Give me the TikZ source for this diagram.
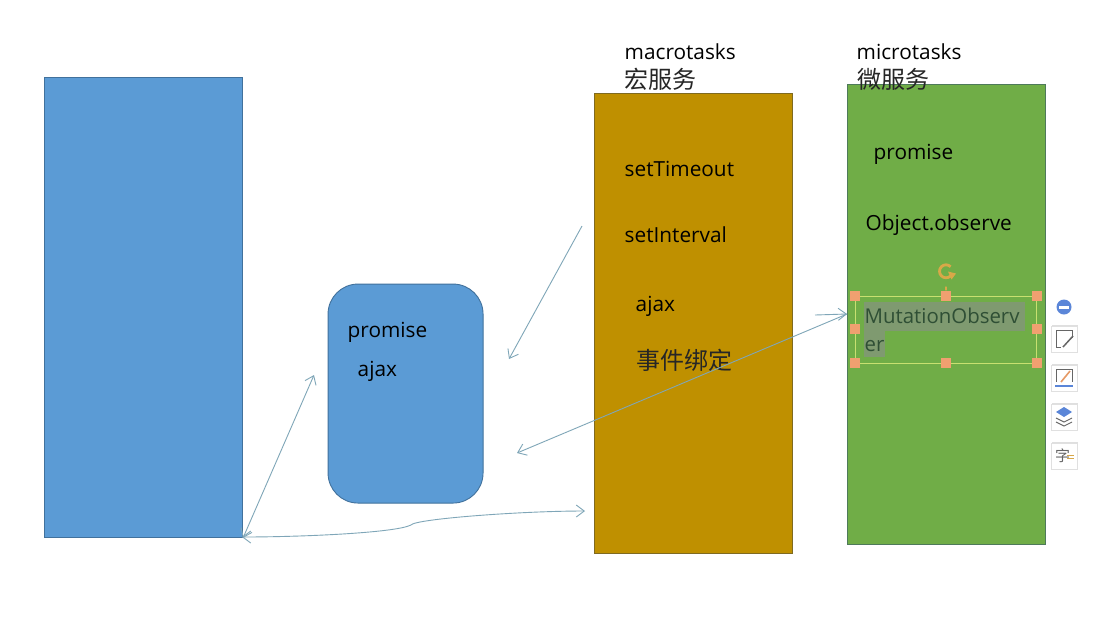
\documentclass[tikz,border=0pt]{standalone}
\usepackage{fontspec}
\setmainfont{Open Sans}
\newfontfamily\cjk{Noto Sans CJK SC}
\usetikzlibrary{arrows.meta,calc,shadows}
\definecolor{bluefill}{HTML}{5B9BD5}
\definecolor{blueline}{HTML}{41719C}
\definecolor{goldfill}{HTML}{BF9000}
\definecolor{goldline}{HTML}{7F6A20}
\definecolor{greenfill}{HTML}{70AD47}
\definecolor{greenline}{HTML}{4E7A5A}
\definecolor{arrowc}{HTML}{7FA6B8}
\definecolor{handle}{HTML}{F0A070}
\definecolor{selbox}{HTML}{C8E070}
\definecolor{hilite}{HTML}{7F9A70}
\definecolor{seltext}{HTML}{2F4F35}
\definecolor{rothandle}{HTML}{D8A848}
\definecolor{toolblue}{HTML}{5B86D8}
\tikzset{
  x=1pt,y=-1pt,
  panel/.style={draw=#1,line width=0.9pt,inner sep=0pt,anchor=north west},
  lbl/.style={inner sep=0pt,anchor=base west,font=\fontsize{20.8}{24}\selectfont,text=black},
  sellbl/.style={inner sep=0pt,anchor=base west,font=\fontsize{20.4}{24}\selectfont,text=seltext},
  cjklbl/.style={inner sep=0pt,anchor=base west,font=\fontsize{24}{26}\selectfont\cjk,text=black!85},
  conn/.style={draw=arrowc,line width=0.9pt,-{Straight Barb[length=8pt,width=12pt,line width=0.9pt]}},
  conn2/.style={draw=arrowc,line width=0.9pt,{Straight Barb[length=8pt,width=12pt,line width=0.9pt]}-{Straight Barb[length=8pt,width=12pt,line width=0.9pt]}},
  hnd/.style={fill=handle,inner sep=0pt,minimum size=10pt,draw=none},
  toolbtn/.style={draw=black!12,fill=white,line width=0.8pt,minimum size=26pt,inner sep=0pt,drop shadow={shadow xshift=1pt,shadow yshift=1.5pt,opacity=0.25}},
}
\begin{document}
\begin{tikzpicture}
\useasboundingbox (0,0) rectangle (1099,622);
\fill[white] (0,0) rectangle (1099,622);
% panels
\node[panel=blueline,fill=bluefill,minimum width=198pt,minimum height=460pt] (left) at (43.8,77.2) {};
\node[panel=blueline,fill=bluefill,rounded corners=30pt,minimum width=155pt,minimum height=219pt] (mid) at (327.6,283.6) {};
\node[panel=goldline,fill=goldfill,minimum width=198pt,minimum height=460pt] (macro) at (594.2,93.2) {};
\node[panel=greenline,fill=greenfill,minimum width=198pt,minimum height=460pt] (micro) at (847,84.2) {};
% titles
\node[lbl] (t1) at (624.5,59) {macrotasks};
\node[cjklbl] (t2) at (624,88) {宏服务};
\node[lbl] (t3) at (856.5,59) {microtasks};
\node[cjklbl] (t4) at (857,88) {微服务};
% middle labels
\node[lbl] (m1) at (347.5,337) {promise};
\node[lbl] (m2) at (357.5,376) {ajax};
% macro labels
\node[lbl] (a1) at (624.5,176) {setTimeout};
\node[lbl] (a2) at (624.5,242) {setInterval};
\node[lbl] (a3) at (635.5,311) {ajax};
\node[cjklbl] (a4) at (636,369) {事件绑定};
% micro labels
\node[lbl] (b1) at (873.5,159) {promise};
\node[lbl] (b2) at (865.5,230) {Object.observe};
% selected text
\fill[hilite] (864,302) rectangle (1025,331);
\fill[hilite] (864,331) rectangle (885,357);
\node[sellbl] (b3) at (864.5,323) {MutationObserv};
\node[sellbl] (b4) at (864.5,351) {er};
% selection box
\node[draw=selbox,line width=0.8pt,minimum width=181pt,minimum height=67pt,inner sep=0pt,anchor=north west] (sel) at (855,295.5) {};
\foreach \a/\n in {north west/h1,north/h2,north east/h3,west/h4,east/h5,south west/h6,south/h7,south east/h8}
  \node[hnd] (\n) at (sel.\a) {};
% rotate handle
\coordinate (rotc) at (946,280.5);
\draw[draw=rothandle,line width=2.8pt] ($(rotc)+(4.6,-4.6)$) arc[start angle=-45,end angle=-315,radius=6.5pt];
\fill[rothandle] ($(rotc)+(2,-9)$) -- ($(rotc)+(10,-7)$) -- ($(rotc)+(5.5,-1)$) -- cycle;
\draw[draw=rothandle,line width=1.8pt] ($(rotc)+(0,6)$) -- (h2);
% toolbar
\node[circle,fill=toolblue,inner sep=0pt,minimum size=15pt] (minus) at (1064,307) {};
\fill[white] (1059,305.8) rectangle (1069,308.6);
\node[toolbtn] (tb1) at (1064,339) {};
\draw[black!60,line width=0.8pt] ($(tb1)+(8,-1)$) -- ($(tb1)+(8,-9)$) -- ($(tb1)+(-8,-9)$) -- ($(tb1)+(-8,8)$) -- ($(tb1)+(-3,8)$);
\draw[black!60,line width=1.5pt] ($(tb1)+(-1,8)$) -- ($(tb1)+(9,-3)$);
\node[toolbtn] (tb2) at (1064,378) {};
\draw[black!60,line width=0.8pt] ($(tb2)+(-8,4)$) -- ($(tb2)+(-8,-9)$) -- ($(tb2)+(8,-9)$) -- ($(tb2)+(8,4)$);
\draw[handle!80!brown,line width=1.6pt] ($(tb2)+(-3,4)$) -- ($(tb2)+(6,-7)$);
\draw[toolblue,line width=1.5pt] ($(tb2)+(-9,8)$) -- ($(tb2)+(9,8)$);
\node[toolbtn] (tb3) at (1064,417) {};
\fill[toolblue] ($(tb3)+(-8,-5)$) -- ($(tb3)+(0,-10)$) -- ($(tb3)+(8,-5)$) -- ($(tb3)+(0,0)$) -- cycle;
\draw[black!60,line width=0.9pt] ($(tb3)+(-8,1)$) -- ($(tb3)+(0,5)$) -- ($(tb3)+(8,1)$);
\draw[black!60,line width=0.9pt] ($(tb3)+(-8,5)$) -- ($(tb3)+(0,9)$) -- ($(tb3)+(8,5)$);
\node[toolbtn,font=\fontsize{15}{15}\selectfont\cjk,text=black!60] (tb4) at (1064,456) {\hspace*{-3pt}字};
\draw[rothandle,line width=0.7pt] ($(tb4)+(3,-1)$) -- ($(tb4)+(10,-1)$) ($(tb4)+(3,2)$) -- ($(tb4)+(10,2)$);
% connectors
\coordinate (c1a) at (582,226);
\coordinate (c1b) at (509,359);
\coordinate (c2a) at (847,314);
\coordinate (c2b) at (815,315);
\coordinate (c3a) at (847,314);
\coordinate (c3b) at (517,453);
\coordinate (c4a) at (243,538);
\coordinate (c4b) at (314,375);
\coordinate (c5b) at (585,511);
\coordinate (c5a) at (242,537);
\draw[conn] (c1a) -- (c1b);
\draw[conn] (c2b) -- (c2a);
\draw[conn] (c3a) -- (c3b);
\draw[conn2] (c4a) -- (c4b);
\draw[conn2] (c5a) .. controls (300,537) and (395,533) .. (411,525)
  .. controls (415,519) and (520,511) .. (c5b);
\end{tikzpicture}
\end{document}
